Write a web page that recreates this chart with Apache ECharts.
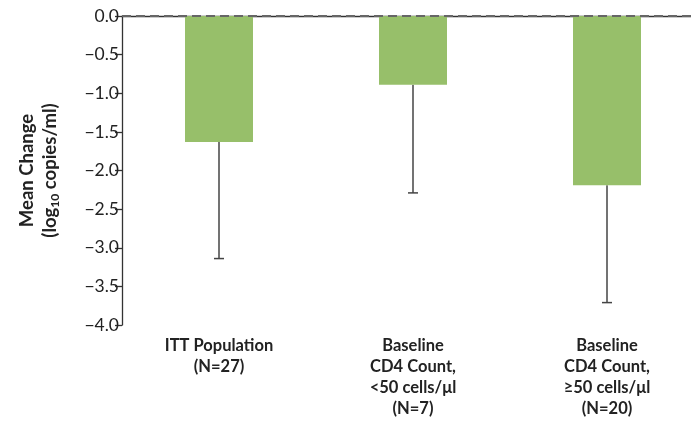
<!DOCTYPE html>
<html><head><meta charset="utf-8">
<script src="https://cdn.jsdelivr.net/npm/echarts@6/dist/echarts.min.js"></script>
<style>html,body{margin:0;padding:0;background:#fff}#c{width:691px;height:425px}</style>
</head><body><div id="c"></div>
<script>
const categories = ['ITT Population\n(N=27)', 'Baseline\nCD4 Count,\n<50 cells/\u03bcl\n(N=7)', 'Baseline\nCD4 Count,\n\u226550 cells/\u03bcl\n(N=20)'];
const meanChange = [-1.63, -0.89, -2.19];
const errorLow = [-3.14, -2.29, -3.71];
const yTicks = [0, -0.5, -1, -1.5, -2, -2.5, -3, -3.5, -4];

const chart = echarts.init(document.getElementById('c'));
const font = 'Lato, "Open Sans", sans-serif';
chart.setOption({
  animation: false,
  grid: { left: 122, top: 16, width: 582, height: 309, outerBoundsMode: 'none', containLabel: false },
  xAxis: {
    type: 'category', data: categories, position: 'bottom',
    axisLine: { lineStyle: { color: '#333', width: 1.3 } },
    axisTick: { show: false },
    axisLabel: { color: '#222', fontFamily: font, fontWeight: 'bold', fontSize: 16.5, lineHeight: 21, margin: 10 }
  },
  yAxis: {
    type: 'value', min: -4, max: 0, interval: 0.5,
    axisLine: { show: true, lineStyle: { color: '#333', width: 1.3 } },
    axisTick: { show: true, length: 7, lineStyle: { color: '#333', width: 1.3 } },
    splitLine: { show: false },
    axisLabel: { color: '#222', fontFamily: font, fontSize: 17.5, margin: 3,
      formatter: v => (v === 0 ? '0.0' : '\u2212' + Math.abs(v).toFixed(1)) },
    name: '{b|Mean Change}\n{b|(log}{s|10}{b| copies/ml)}',
    nameLocation: 'middle', nameRotate: 90, nameGap: 60,
    nameTextStyle: {
      rich: {
        b: { fontFamily: font, fontWeight: 'bold', fontSize: 18.5, color: '#222', lineHeight: 23 },
        s: { fontFamily: font, fontWeight: 'bold', fontSize: 12, color: '#222', padding: [9, 0, 0, 0], lineHeight: 23 }
      }
    }
  },
  series: [
    {
      type: 'bar', data: meanChange, barWidth: 68,
      itemStyle: { color: '#97bf6a' },
      markLine: {
        silent: true, symbol: 'none', label: { show: false },
        lineStyle: { type: [9, 5], color: '#666', width: 2 },
        data: [{ yAxis: 0 }]
      }
    },
    {
      type: 'custom',
      data: meanChange.map((m, i) => [i, m, errorLow[i]]),
      renderItem: (params, api) => {
        const top = api.coord([api.value(0), api.value(1)]);
        const bot = api.coord([api.value(0), api.value(2)]);
        return { type: 'group', children: [
          { type: 'line', shape: { x1: top[0], y1: top[1], x2: bot[0], y2: bot[1] }, style: { stroke: '#444', lineWidth: 1.5 } },
          { type: 'line', shape: { x1: bot[0] - 5, y1: bot[1], x2: bot[0] + 5, y2: bot[1] }, style: { stroke: '#444', lineWidth: 1.5 } }
        ] };
      }
    }
  ]
});
</script></body></html>
